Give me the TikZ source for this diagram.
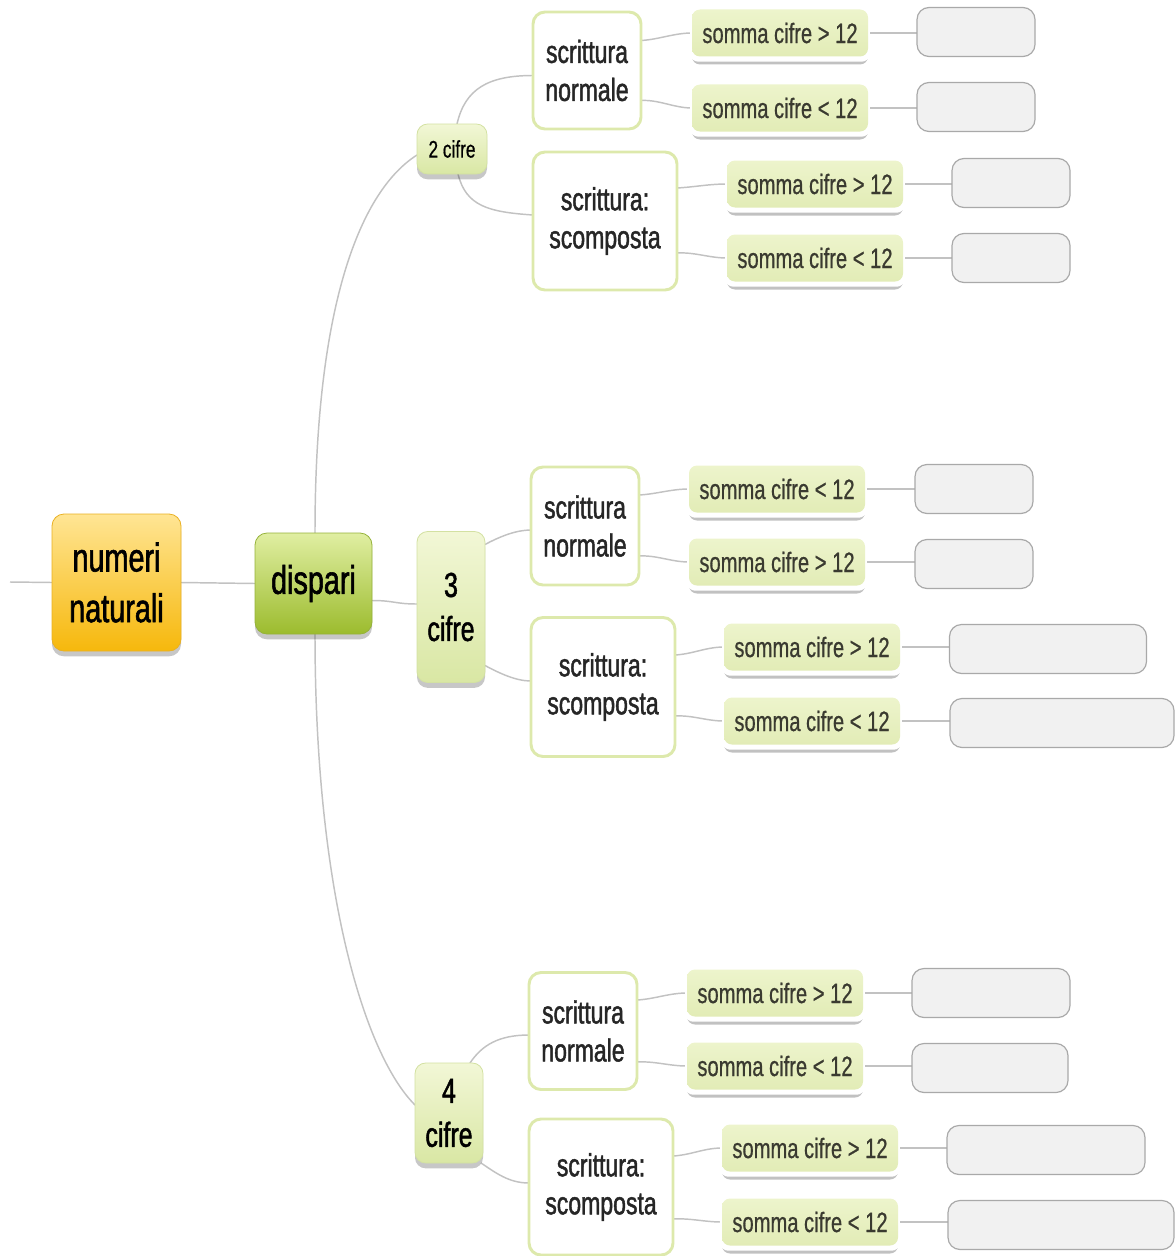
\documentclass[tikz,border=0pt]{standalone}
\usepackage{fontspec}
\setmainfont[FakeStretch=0.72,FakeBold=0.6]{Liberation Sans}
\newfontfamily\heavyfont[FakeStretch=0.72,FakeBold=1.4]{Liberation Sans}
\usetikzlibrary{shadows,calc,backgrounds}
\definecolor{lineg}{HTML}{C2C2C2}
\definecolor{orT}{HTML}{FFE594}
\definecolor{orB}{HTML}{F6B80C}
\definecolor{orD}{HTML}{E9B022}
\definecolor{grT}{HTML}{E0EEA2}
\definecolor{grB}{HTML}{9CBC2E}
\definecolor{grD}{HTML}{95B23A}
\definecolor{cfT}{HTML}{F2F7D6}
\definecolor{cfB}{HTML}{D9E7A4}
\definecolor{cfD}{HTML}{D3E1A2}
\definecolor{scrD}{HTML}{DDE9AC}
\definecolor{smT}{HTML}{EDF4CC}
\definecolor{smB}{HTML}{E2ECB6}
\definecolor{smText}{HTML}{3A3A30}
\definecolor{emF}{HTML}{F1F1F1}
\definecolor{emD}{HTML}{A9A9A9}
\newcommand\fNum{\heavyfont\fontsize{30}{38}\selectfont}
\newcommand\fCif{\heavyfont\fontsize{26}{33}\selectfont}
\newcommand\fTwo{\fontsize{18}{22}\selectfont}
\newcommand\fScr{\heavyfont\fontsize{24}{28.5}\selectfont}
\newcommand\fSom{\fontsize{21}{25}\selectfont}
\tikzset{
  sz/.style 2 args={minimum width=#1*0.75pt, minimum height=#2*0.75pt},
  base/.style={inner sep=0pt, outer sep=0pt, align=center},
  conn/.style={draw=lineg, line width=1.1pt},
  softshadow/.style={drop shadow={shadow xshift=0pt, shadow yshift=-4pt, opacity=0.22, fill=black}},
  orangebox/.style={base, rounded corners=9pt, top color=orT, bottom color=orB, draw=orD, line width=0.6pt,
    softshadow, font=\fNum, text=black},
  greenbox/.style={base, rounded corners=9pt, top color=grT, bottom color=grB, draw=grD, line width=0.6pt,
    softshadow, font=\fNum, text=black},
  cifbox/.style={base, rounded corners=8pt, top color=cfT, bottom color=cfB, draw=cfD, line width=0.6pt,
    softshadow, text=black},
  scrbox/.style={base, rounded corners=9pt, fill=white, draw=scrD, line width=2.2pt, font=\fScr, text=black!85},
  sommabox/.style={base, sz={176}{47}, rounded corners=6pt, top color=smT, bottom color=smB,
    drop shadow={shadow xshift=0pt, shadow yshift=-6pt, opacity=0.3, fill=black!80},
    general shadow={shadow xshift=0pt, shadow yshift=-3.5pt, shadow scale=1.02, fill=white},
    font=\fSom, text=smText},
  emptybox/.style={base, rounded corners=9pt, fill=emF, draw=emD, line width=0.9pt, minimum height=49*0.75pt},
}
\begin{document}
\begin{tikzpicture}[x=0.75pt, y=-0.75pt]
\path[use as bounding box] (0,0) rectangle (1175,1256);

% main nodes
\node[orangebox, sz={129}{137}] (nn) at (116.5,582.5) {numeri\\naturali};
\node[greenbox, sz={117}{101}] (disp) at (313.5,583.5) {dispari};
\coordinate (stub) at (10,582);

\node[cifbox, sz={70}{50}, font=\fTwo] (c2) at (452,149) {2 cifre};
\node[cifbox, sz={68}{151}, font=\fCif] (c3) at (451,607) {3\\cifre};
\node[cifbox, sz={68}{100}, font=\fCif] (c4) at (449,1113) {4\\cifre};

% scrittura nodes
\node[scrbox, sz={108}{117}] (sn1) at (587,70.5) {scrittura\\normale};
\node[scrbox, sz={144}{138}] (ss1) at (605,221) {scrittura:\\scomposta};
\node[scrbox, sz={108}{118}] (sn2) at (585,526) {scrittura\\normale};
\node[scrbox, sz={144}{139}] (ss2) at (603,687) {scrittura:\\scomposta};
\node[scrbox, sz={108}{117}] (sn3) at (583,1031) {scrittura\\normale};
\node[scrbox, sz={144}{136}] (ss3) at (601,1187) {scrittura:\\scomposta};

% somma nodes
\node[sommabox] (a1) at (780,33) {somma cifre > 12};
\node[sommabox] (a2) at (780,108) {somma cifre < 12};
\node[sommabox] (a3) at (815,184) {somma cifre > 12};
\node[sommabox] (a4) at (815,258) {somma cifre < 12};
\node[sommabox] (b1) at (777,489) {somma cifre < 12};
\node[sommabox] (b2) at (777,562) {somma cifre > 12};
\node[sommabox] (b3) at (812,647) {somma cifre > 12};
\node[sommabox] (b4) at (812,721) {somma cifre < 12};
\node[sommabox] (d1) at (775,993) {somma cifre > 12};
\node[sommabox] (d2) at (775,1066) {somma cifre < 12};
\node[sommabox] (d3) at (810,1148) {somma cifre > 12};
\node[sommabox] (d4) at (810,1222) {somma cifre < 12};

% empty boxes
\node[emptybox, minimum width=118*0.75pt] (e1) at (976,32) {};
\node[emptybox, minimum width=118*0.75pt] (e2) at (976,107) {};
\node[emptybox, minimum width=118*0.75pt] (e3) at (1011,183) {};
\node[emptybox, minimum width=118*0.75pt] (e4) at (1011,258) {};
\node[emptybox, minimum width=118*0.75pt] (f1) at (974,489) {};
\node[emptybox, minimum width=118*0.75pt] (f2) at (974,564) {};
\node[emptybox, minimum width=197*0.75pt] (f3) at (1048,649) {};
\node[emptybox, minimum width=224*0.75pt] (f4) at (1062,723) {};
\node[emptybox, minimum width=158*0.75pt] (g1) at (991,993) {};
\node[emptybox, minimum width=156*0.75pt] (g2) at (990,1068) {};
\node[emptybox, minimum width=198*0.75pt] (g3) at (1046,1150) {};
\node[emptybox, minimum width=226*0.75pt] (g4) at (1061,1225) {};

% connectors
\begin{pgfonlayer}{background}
\draw[conn] (stub) -- (nn.west);
\draw[conn] (nn.east) -- (disp.west);
\draw[conn] ($(disp.north)+(1.5,0)$) .. controls +(0,-233) and +(-55,35) .. ($(c2.west)+(0,6)$);
\draw[conn] ($(disp.south)+(1.5,0)$) .. controls +(0,260) and +(-50,-50) .. ($(c4.west)+(0,-8)$);
\draw[conn] ($(disp.east)+(0,17)$) .. controls +(22,0) and +(-22,0) .. ($(c3.west)+(0,-3)$);

\draw[conn] ($(c2.north)+(5,0)$) .. controls +(8,-35) and +(-45,0) .. ($(sn1.west)+(0,5)$);
\draw[conn] ($(c2.south)+(6,0)$) .. controls +(8,32) and +(-45,-3) .. ($(ss1.west)+(0,-6)$);
\draw[conn] ($(c3.north east)+(0,13)$) .. controls +(15,-8) and +(-15,0) .. ($(sn2.west)+(0,4)$);
\draw[conn] ($(c3.south east)+(0,-17)$) .. controls +(15,8) and +(-15,0) .. ($(ss2.west)+(0,-6)$);
\draw[conn] ($(c4.north)+(21,0)$) .. controls +(12,-18) and +(-30,0) .. ($(sn3.west)+(0,4)$);
\draw[conn] ($(c4.south east)+(-2,0)$) .. controls +(15,10) and +(-20,0) .. ($(ss3.west)+(0,-4)$);

\foreach \s/\t/\dy in {sn1/a1/-30, sn1/a2/30, ss1/a3/-33, ss1/a4/32,
                      sn2/b1/-31, sn2/b2/30, ss2/b3/-32, ss2/b4/29,
                      sn3/d1/-31, sn3/d2/31, ss3/d3/-31, ss3/d4/32}{
  \draw[conn] ($(\s.east)+(0,\dy)$) .. controls +(18,-1) and +(-18,0) .. (\t.west);
}
\foreach \s/\t in {a1/e1, a2/e2, a3/e3, a4/e4, b1/f1, b2/f2, b3/f3, b4/f4,
                   d1/g1, d2/g2, d3/g3, d4/g4}{
  \draw[conn] (\s.east) -- (\s.east -| \t.west);
}
\end{pgfonlayer}
\end{tikzpicture}
\end{document}
